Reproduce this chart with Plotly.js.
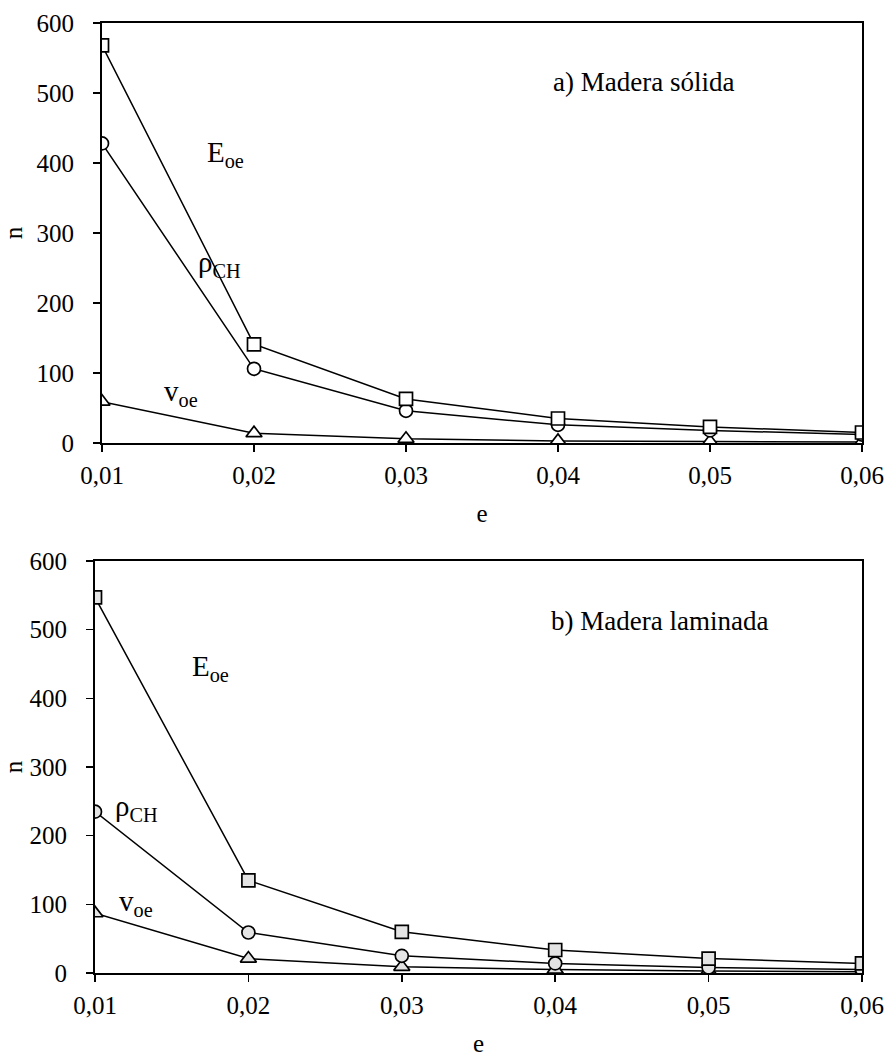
<!DOCTYPE html>
<html>
<head>
<meta charset="utf-8">
<script src="https://cdn.plot.ly/plotly-3.0.1.min.js"></script>
<style>html,body{margin:0;padding:0;background:#fff;}</style>
</head>
<body>
<div id="chart" style="width:888px;height:1057px;"></div>
<script>
// ---- data ----
const eValues = [0.01, 0.02, 0.03, 0.04, 0.05, 0.06];
const xTickLabels = ['0,01', '0,02', '0,03', '0,04', '0,05', '0,06'];
const yTickValues = [0, 100, 200, 300, 400, 500, 600];

// a) Madera sólida
const solidEoe = [568, 141, 63, 35, 23, 15];
const solidRho = [428, 106, 46, 26, 18, 12];
const solidVoe = [59, 14, 6, 3, 2, 1.5];

// b) Madera laminada
const lamEoe = [547, 135, 60, 33.5, 21, 14];
const lamRho = [235, 59, 25, 14, 8, 5];
const lamVoe = [87, 21, 9, 5, 3, 2];

const panelTitles = ['a) Madera sólida', 'b) Madera laminada'];
const seriesLabels = ['E<sub>oe</sub>', 'ρ<sub>CH</sub>', 'v<sub>oe</sub>'];

// ---- styling ----
const FONT = 'Liberation Serif';
const W = 888, H = 1057;

function mk(x, y, symbol, fill, xa, ya) {
  return {
    x: x, y: y, xaxis: xa, yaxis: ya,
    type: 'scatter', mode: 'lines+markers',
    line: {color: '#000', width: 1.5},
    marker: {symbol: symbol, size: symbol === 'triangle-up' ? 14 : 13, color: fill,
             line: {color: '#000', width: 1.7}},
    hoverinfo: 'x+y'
  };
}

const data = [
  mk(eValues, solidVoe, 'triangle-up', '#ffffff', 'x', 'y'),
  mk(eValues, solidRho, 'circle', '#ffffff', 'x', 'y'),
  mk(eValues, solidEoe, 'square', '#ffffff', 'x', 'y'),
  mk(eValues, lamVoe, 'triangle-up', '#e4e4e4', 'x2', 'y2'),
  mk(eValues, lamRho, 'circle', '#e4e4e4', 'x2', 'y2'),
  mk(eValues, lamEoe, 'square', '#e4e4e4', 'x2', 'y2')
];

function xax(domain, anchor) {
  return {
    domain: domain, anchor: anchor,
    range: [eValues[0], eValues[eValues.length - 1]],
    tickmode: 'array', tickvals: eValues, ticktext: xTickLabels,
    ticks: 'outside', ticklen: 7, tickwidth: 1.5, tickcolor: '#000',
    ticklabelstandoff: 2,
    showline: true, linecolor: '#000', linewidth: 2, mirror: true,
    showgrid: false, zeroline: false,
    tickfont: {family: FONT, size: 25, color: '#000'},
    title: {text: 'e', font: {family: FONT, size: 25, color: '#000'}, standoff: 16},
    automargin: false
  };
}
function yax(domain, anchor) {
  return {
    domain: domain, anchor: anchor,
    range: [0, 600],
    tickmode: 'array', tickvals: yTickValues,
    ticks: 'outside', ticklen: 7, tickwidth: 1.5, tickcolor: '#000',
    ticklabelstandoff: 14,
    showline: true, linecolor: '#000', linewidth: 2, mirror: true,
    showgrid: false, zeroline: false,
    tickfont: {family: FONT, size: 25, color: '#000'},
    title: {text: 'n', font: {family: FONT, size: 25, color: '#000'}, standoff: 8},
    automargin: false
  };
}

function ann(text, x, y, xr, yr, size) {
  return {text: text, x: x, y: y, xref: xr, yref: yr, showarrow: false,
          xanchor: 'center', yanchor: 'middle',
          font: {family: FONT, size: size, color: '#000'}};
}

const layout = {
  width: W, height: H,
  margin: {l: 0, r: 0, t: 0, b: 0},
  paper_bgcolor: '#fff', plot_bgcolor: '#fff',
  showlegend: false,
  font: {family: FONT, size: 25, color: '#000'},
  xaxis: xax([102 / W, 862 / W], 'y'),
  yaxis: yax([1 - 443 / H, 1 - 23 / H], 'x'),
  xaxis2: xax([95 / W, 862 / W], 'y2'),
  yaxis2: yax([1 - 973 / H, 1 - 561 / H], 'x2'),
  annotations: [
    ann(panelTitles[0], 0.0456, 516, 'x', 'y', 27),
    ann(seriesLabels[0], 0.0181, 413, 'x', 'y', 29),
    ann(seriesLabels[1], 0.0177, 256, 'x', 'y', 29),
    ann(seriesLabels[2], 0.0152, 72, 'x', 'y', 29),
    ann(panelTitles[1], 0.0468, 512, 'x2', 'y2', 27),
    ann(seriesLabels[0], 0.0175, 444, 'x2', 'y2', 29),
    ann(seriesLabels[1], 0.0127, 240, 'x2', 'y2', 29),
    ann(seriesLabels[2], 0.0127, 102, 'x2', 'y2', 29)
  ]
};

Plotly.newPlot('chart', data, layout, {displayModeBar: false, staticPlot: true});
</script>
</body>
</html>
